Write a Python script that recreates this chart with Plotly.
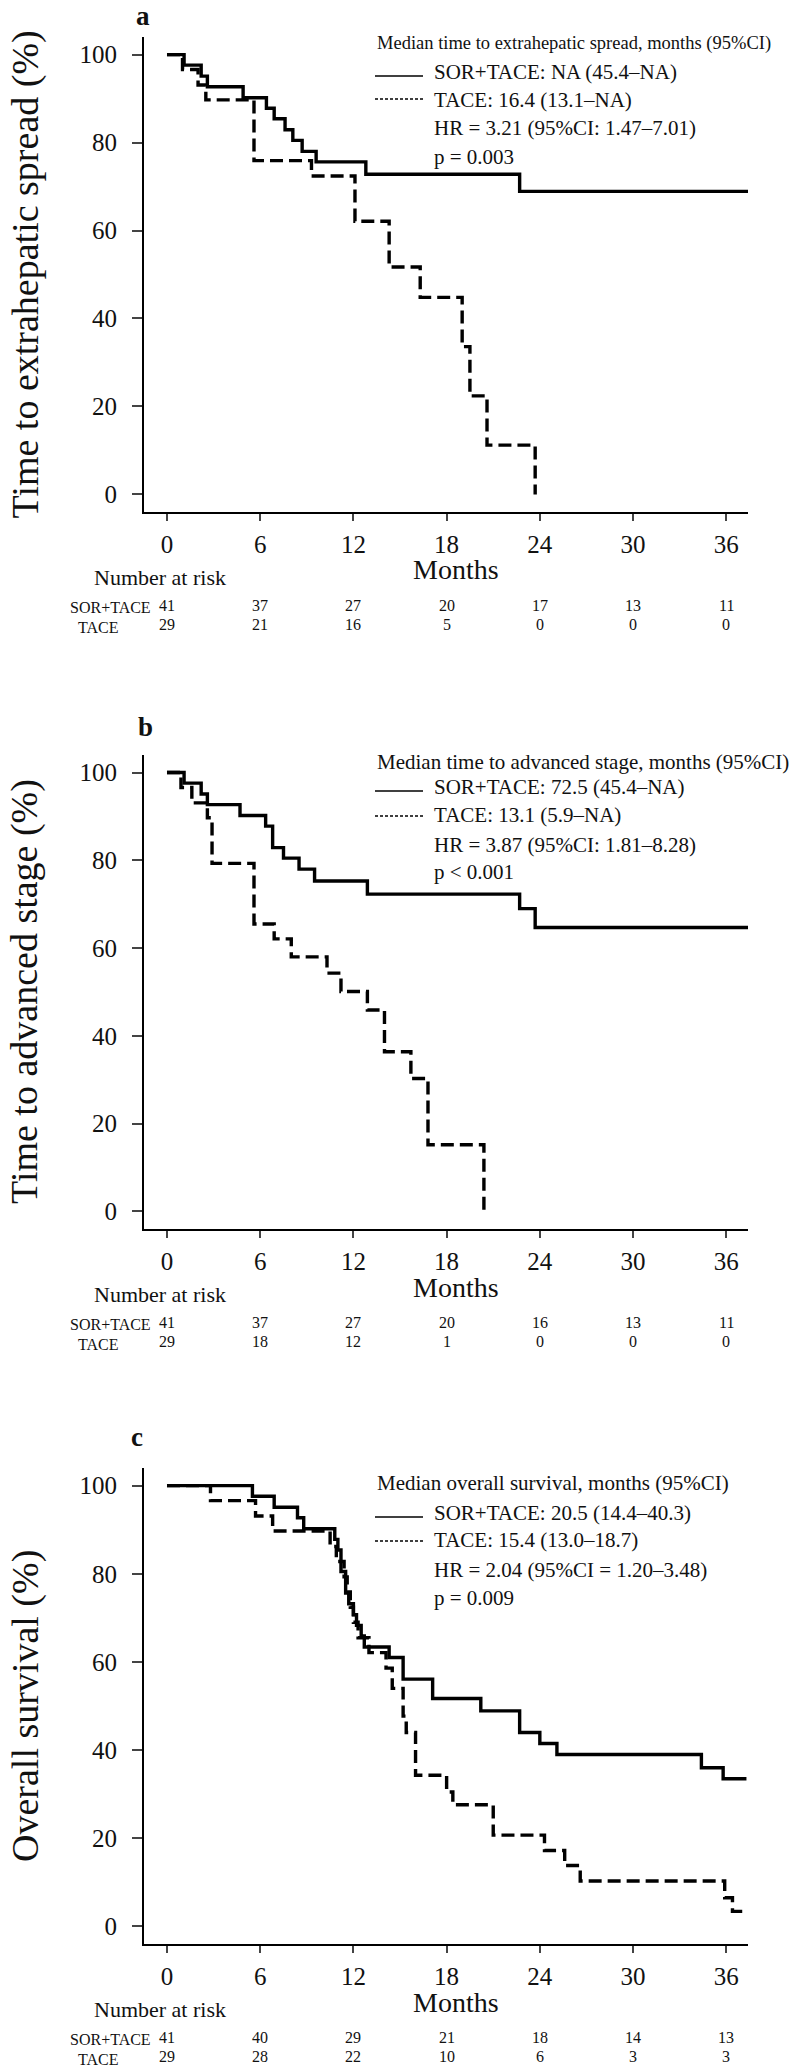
import plotly.graph_objects as go

# ---------------- data ----------------
months_ticks = [0, 6, 12, 18, 24, 30, 36]

# Panel a: time to extrahepatic spread
a_sor_t = [0, 1.1, 2.2, 2.6, 4.9, 6.4, 6.9, 7.6, 8.1, 8.7, 9.6, 12.8, 22.7, 37.4]
a_sor_s = [100, 97.6, 95.1, 92.7, 90.2, 87.8, 85.4, 82.9, 80.5, 78.0, 75.6, 72.8, 68.9, 68.9]
a_tace_t = [0, 1.0, 2.0, 2.5, 5.6, 9.3, 12.1, 14.3, 16.3, 19.0, 19.5, 20.6, 23.7]
a_tace_s = [100, 96.6, 93.1, 89.7, 75.9, 72.4, 62.1, 51.7, 44.8, 33.6, 22.4, 11.2, 0]
a_risk_sor = [41, 37, 27, 20, 17, 13, 11]
a_risk_tace = [29, 21, 16, 5, 0, 0, 0]
a_ytitle = "Time to extrahepatic spread (%)"
a_legend = ["Median time to extrahepatic spread, months (95%CI)",
            "SOR+TACE: NA (45.4–NA)",
            "TACE: 16.4 (13.1–NA)",
            "HR = 3.21 (95%CI: 1.47–7.01)",
            "p = 0.003"]

# Panel b: time to advanced stage
b_sor_t = [0, 1.1, 2.2, 2.6, 4.7, 6.35, 6.8, 7.5, 8.5, 9.5, 12.9, 22.7, 23.7, 37.4]
b_sor_s = [100, 97.6, 95.1, 92.7, 90.2, 87.8, 82.9, 80.5, 78.0, 75.3, 72.3, 69.0, 64.7, 64.7]
b_tace_t = [0, 0.9, 1.6, 2.6, 2.9, 5.6, 6.9, 8.0, 10.3, 11.2, 12.9, 14.0, 15.7, 16.8, 20.4]
b_tace_s = [100, 96.6, 93.1, 89.7, 79.3, 65.5, 62.1, 58.0, 54.3, 50.1, 45.9, 36.4, 30.3, 15.2, 0]
b_risk_sor = [41, 37, 27, 20, 16, 13, 11]
b_risk_tace = [29, 18, 12, 1, 0, 0, 0]
b_ytitle = "Time to advanced stage (%)"
b_legend = ["Median time to advanced stage, months (95%CI)",
            "SOR+TACE: 72.5 (45.4–NA)",
            "TACE: 13.1 (5.9–NA)",
            "HR = 3.87 (95%CI: 1.81–8.28)",
            "p < 0.001"]

# Panel c: overall survival
c_sor_t = [0, 5.5, 6.9, 8.4, 8.8, 10.8, 11.0, 11.2, 11.5, 11.7, 12.0, 12.2, 12.5, 12.7,
           14.3, 15.2, 17.1, 20.2, 22.7, 24.0, 25.1, 34.4, 35.8, 37.3]
c_sor_s = [100, 97.6, 95.1, 92.7, 90.2, 87.8, 85.4, 80.5, 75.6, 73.2, 70.7, 68.3, 65.9, 63.4,
           61.0, 56.1, 51.7, 48.9, 44.0, 41.5, 39.0, 36.0, 33.5, 33.5]
c_tace_t = [0, 2.8, 5.7, 6.8, 10.5, 10.9, 11.4, 11.6, 11.8, 12.0, 12.3, 13.0, 14.1, 14.5,
            15.2, 15.4, 16.0, 18.0, 18.4, 21.0, 24.3, 25.6, 26.6, 35.9, 36.4, 37.3]
c_tace_s = [100, 96.6, 93.1, 89.7, 86.2, 82.8, 79.3, 75.9, 72.4, 69.0, 65.5, 62.1, 58.6, 54.0,
            47.7, 44.0, 34.3, 30.5, 27.6, 20.7, 17.2, 13.8, 10.3, 6.5, 3.4, 3.4]
c_risk_sor = [41, 40, 29, 21, 18, 14, 13]
c_risk_tace = [29, 28, 22, 10, 6, 3, 3]
c_ytitle = "Overall survival (%)"
c_legend = ["Median overall survival, months (95%CI)",
            "SOR+TACE: 20.5 (14.4–40.3)",
            "TACE: 15.4 (13.0–18.7)",
            "HR = 2.04 (95%CI = 1.20–3.48)",
            "p = 0.009"]

group_labels = ["SOR+TACE", "TACE"]
panel_letters = ["a", "b", "c"]

# ---------------- layout helpers ----------------
W, H = 796, 2069
SERIF = "Liberation Serif, Times New Roman, serif"


def px(x):
    return x / W


def py(y):
    return 1 - y / H


X0, X1 = 144, 748
panels = [
    dict(top=37, bottom=512, letter=(143, 0, "top"), leg=[43, 72, 100, 128, 157], samp=[76, 99],
         title_size=18.5,
         sor=(a_sor_t, a_sor_s), tace=(a_tace_t, a_tace_s), risk=(a_risk_sor, a_risk_tace),
         ytitle=a_ytitle, legend=a_legend),
    dict(top=755, bottom=1229, letter=(145, 727, "middle"), leg=[762, 787, 815, 845, 872], samp=[791, 816],
         title_size=21,
         sor=(b_sor_t, b_sor_s), tace=(b_tace_t, b_tace_s), risk=(b_risk_sor, b_risk_tace),
         ytitle=b_ytitle, legend=b_legend),
    dict(top=1468, bottom=1944, letter=(137, 1437, "middle"), leg=[1483, 1513, 1540, 1570, 1598], samp=[1517, 1541],
         title_size=21,
         sor=(c_sor_t, c_sor_s), tace=(c_tace_t, c_tace_s), risk=(c_risk_sor, c_risk_tace),
         ytitle=c_ytitle, legend=c_legend),
]

fig = go.Figure()
annotations = []
shapes = []
layout = dict(width=W, height=H, autosize=False, margin=dict(l=0, r=0, t=0, b=0),
              paper_bgcolor="white", plot_bgcolor="white", showlegend=False,
              font=dict(family=SERIF, color="#111"))

for i, p in enumerate(panels):
    k = "" if i == 0 else str(i + 1)
    xa, ya = "x" + k, "y" + k
    fig.add_trace(go.Scatter(x=p["sor"][0], y=p["sor"][1], mode="lines", line_shape="hv",
                             line=dict(color="black", width=3.4), xaxis=xa, yaxis=ya,
                             name=group_labels[0]))
    fig.add_trace(go.Scatter(x=p["tace"][0], y=p["tace"][1], mode="lines", line_shape="hv",
                             line=dict(color="black", width=3.4, dash="13px,6px"), xaxis=xa, yaxis=ya,
                             name=group_labels[1]))
    layout["xaxis" + k] = dict(domain=[px(X0), px(X1)], range=[-1.48, 37.4], anchor=ya,
                               tickvals=months_ticks, ticks="outside", ticklen=7, tickwidth=2,
                               showline=True, linewidth=2.2, linecolor="black", showgrid=False,
                               zeroline=False, tickfont=dict(family=SERIF, size=25, color="#111"),
                               ticklabelstandoff=2)
    layout["yaxis" + k] = dict(domain=[py(p["bottom"]), py(p["top"])], range=[-4, 104], anchor=xa,
                               tickvals=[0, 20, 40, 60, 80, 100], ticks="outside", ticklen=10,
                               tickwidth=2, showline=True, linewidth=2.2, linecolor="black",
                               showgrid=False, zeroline=False,
                               tickfont=dict(family=SERIF, size=25, color="#111"),
                               ticklabelstandoff=10)
    # panel letter
    lx, ly, lanchor = p["letter"]
    annotations.append(dict(x=px(lx), y=py(ly), xref="paper", yref="paper",
                            text="<b>" + panel_letters[i] + "</b>", showarrow=False,
                            font=dict(family=SERIF, size=27, color="#111"),
                            xanchor="center", yanchor=lanchor, borderpad=0))
    # y title
    annotations.append(dict(x=px(25), y=py((p["top"] + p["bottom"]) / 2), xref="paper", yref="paper",
                            text=p["ytitle"], textangle=-90, showarrow=False,
                            font=dict(family=SERIF, size=38, color="#111"),
                            xanchor="center", yanchor="middle"))
    # legend text
    for j, txt in enumerate(p["legend"]):
        annotations.append(dict(x=px(375 if j == 0 else 432), y=py(p["leg"][j]), xref="paper",
                                yref="paper", text=txt, showarrow=False,
                                font=dict(family=SERIF, size=p["title_size"] if j == 0 else 21,
                                          color="#111"),
                                xanchor="left", yanchor="middle"))
    shapes.append(dict(type="line", xref="paper", yref="paper", x0=px(375), x1=px(423),
                       y0=py(p["samp"][0]), y1=py(p["samp"][0]), line=dict(color="black", width=1.3)))
    shapes.append(dict(type="line", xref="paper", yref="paper", x0=px(375), x1=px(423),
                       y0=py(p["samp"][1]), y1=py(p["samp"][1]),
                       line=dict(color="black", width=1.3, dash="3px,2px")))
    ax = p["bottom"]
    # Months label
    annotations.append(dict(x=px(456), y=py(ax + 58), xref="paper", yref="paper", text="Months",
                            showarrow=False, font=dict(family=SERIF, size=28, color="#111"),
                            xanchor="center", yanchor="middle"))
    annotations.append(dict(x=px(160), y=py(ax + 65), xref="paper", yref="paper",
                            text="Number at risk", showarrow=False,
                            font=dict(family=SERIF, size=22, color="#111"),
                            xanchor="center", yanchor="middle"))
    # risk table
    annotations.append(dict(x=px(153), y=py(ax + 95), xref="paper", yref="paper",
                            text=group_labels[0], showarrow=False,
                            font=dict(family=SERIF, size=16, color="#111"),
                            xanchor="right", yanchor="middle"))
    annotations.append(dict(x=px(98), y=py(ax + 115), xref="paper", yref="paper",
                            text=group_labels[1], showarrow=False,
                            font=dict(family=SERIF, size=16, color="#111"),
                            xanchor="center", yanchor="middle"))
    for g, row in enumerate(p["risk"]):
        for t, n in zip(months_ticks, row):
            annotations.append(dict(x=t, y=py(ax + 93 + 19 * g), xref=xa, yref="paper",
                                    text=str(n), showarrow=False,
                                    font=dict(family=SERIF, size=16, color="#111"),
                                    xanchor="center", yanchor="middle"))

layout["annotations"] = annotations
layout["shapes"] = shapes
fig.update_layout(**layout)

fig.write_html("out.html", config={"displayModeBar": False},
               post_script="document.body.style.margin='0';")
